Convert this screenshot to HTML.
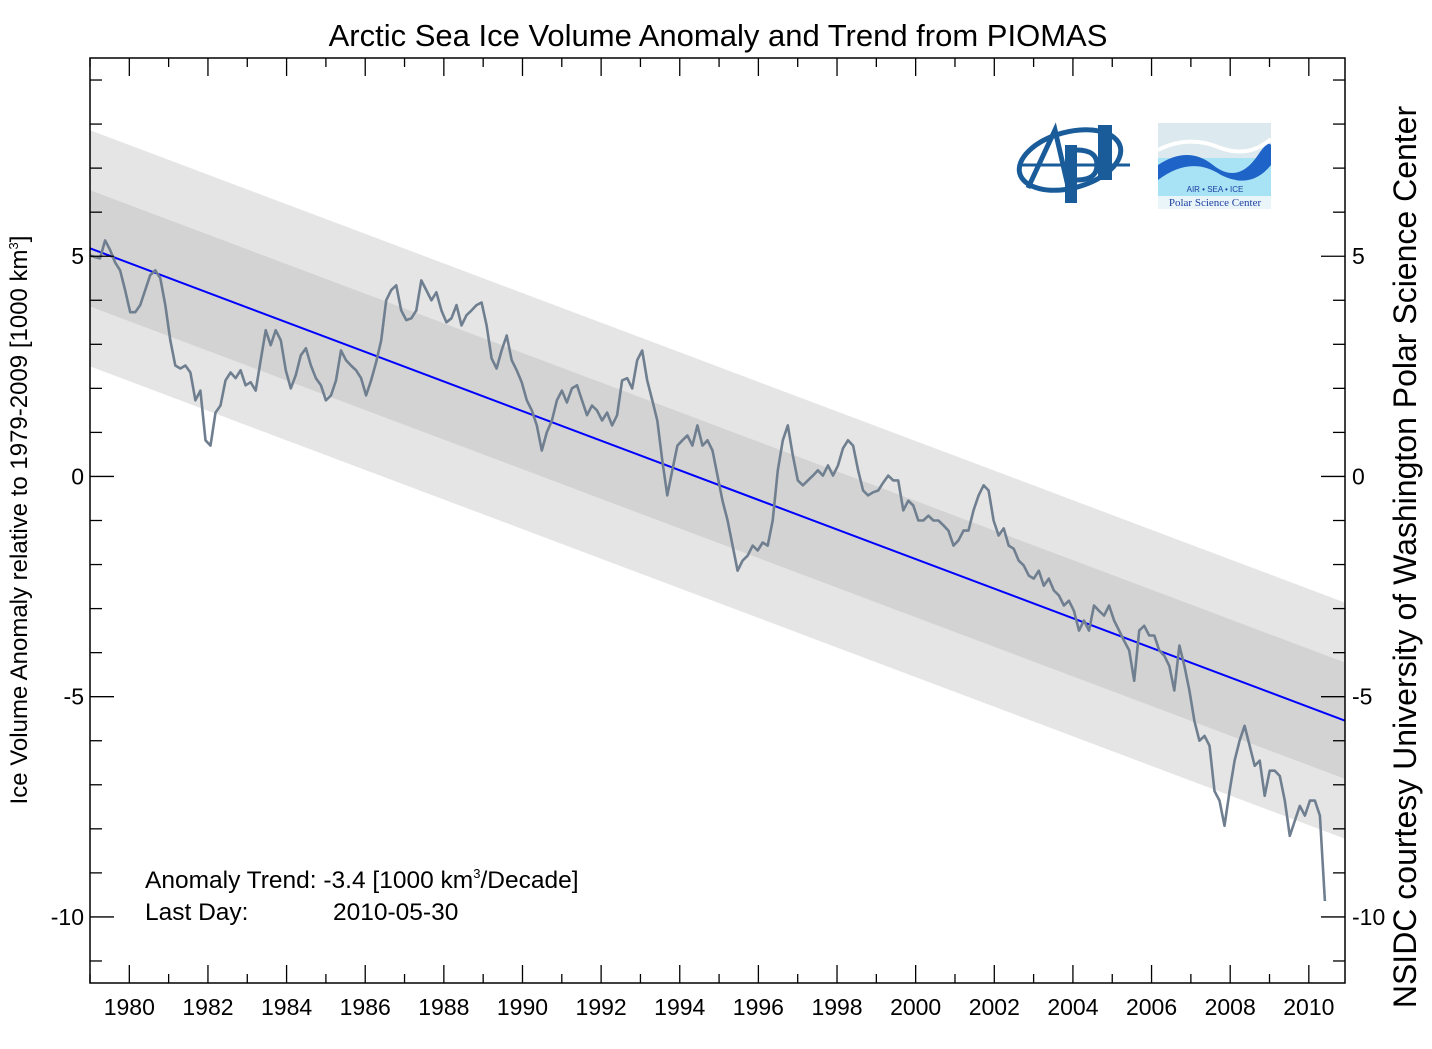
<!DOCTYPE html>
<html><head><meta charset="utf-8"><style>
body{margin:0;background:#fff;}
svg text{font-family:"Liberation Sans",sans-serif;fill:#000;}
</style></head><body>
<svg id="chart" width="1432" height="1044" xmlns="http://www.w3.org/2000/svg">
<g id="bands"></g>
<g id="series"></g>
<g id="axes"></g>
<text x="718" y="46" font-size="31" text-anchor="middle">Arctic Sea Ice Volume Anomaly and Trend from PIOMAS</text>
<text transform="translate(27,520) rotate(-90)" font-size="24" text-anchor="middle">Ice Volume Anomaly relative to 1979-2009 [1000 km<tspan font-size="13" dy="-9">3</tspan><tspan dy="9">]</tspan></text>
<text transform="translate(1416,557) rotate(-90)" font-size="32" text-anchor="middle">NSIDC courtesy University of Washington Polar Science Center</text>
<text x="145" y="888" font-size="24.5">Anomaly Trend: -3.4 [1000 km<tspan font-size="13" dy="-10">3</tspan><tspan dy="10">/Decade]</tspan></text>
<text x="145" y="920" font-size="24.5">Last Day:</text>
<text x="333" y="920" font-size="24.5">2010-05-30</text>
<g fill="none" stroke="#1a5c9a" stroke-width="5">
<ellipse cx="1070" cy="160" rx="52" ry="28" transform="rotate(-15 1070 160)"/>
<path d="M1028,188 L1055,130 L1070,195" />
<path d="M1020,165 L1130,165" stroke-width="3"/>
<rect x="1065" y="145" width="12" height="58" fill="#1a5c9a" stroke="none"/>
<path d="M1077,150 q20,0 20,15 q0,15 -20,15" />
<rect x="1098" y="125" width="14" height="55" fill="#1a5c9a" stroke="none"/>
</g>
<g>
<rect x="1158" y="123" width="113" height="86" fill="#dce9ee"/>
<rect x="1158" y="158" width="113" height="38" fill="#a8e2f5"/>
<path d="M1158,165 q30,-20 55,0 q25,20 45,-10 q10,-15 13,-10 l0,20 q-20,25 -50,10 q-30,-20 -63,5z" fill="#1e63c8"/>
<path d="M1158,150 q30,-15 60,-3 q30,12 53,-8" stroke="#fff" stroke-width="4" fill="none"/>
<text x="1215" y="192" font-size="8" text-anchor="middle" style="fill:#1b3fa0">AIR  •  SEA  •  ICE</text>
<rect x="1158" y="196" width="113" height="13" fill="#eaf5fa"/>
<text x="1215" y="206" font-size="11" text-anchor="middle" style="font-family:'Liberation Serif',serif;fill:#1b3fa0">Polar Science Center</text>
</g>
</svg>
<script>
const startYear = 1979.0;
const lastYear = 2010.41;
const values = [5.02,4.98,4.95,5.36,5.14,4.86,4.68,4.23,3.73,3.73,3.89,4.23,4.57,4.68,4.50,3.89,3.09,2.52,2.45,2.52,2.36,1.73,1.95,0.82,0.70,1.45,1.61,2.18,2.36,2.23,2.41,2.07,2.14,1.95,2.64,3.32,2.98,3.32,3.09,2.41,2.00,2.30,2.75,2.91,2.52,2.23,2.07,1.73,1.84,2.18,2.86,2.64,2.52,2.41,2.23,1.84,2.18,2.59,3.09,4.00,4.23,4.34,3.77,3.55,3.59,3.77,4.45,4.23,4.00,4.18,3.77,3.50,3.59,3.89,3.43,3.66,3.77,3.89,3.95,3.43,2.68,2.45,2.86,3.20,2.64,2.41,2.14,1.73,1.50,1.16,0.59,1.00,1.27,1.73,1.95,1.68,2.00,2.07,1.73,1.39,1.61,1.50,1.27,1.45,1.16,1.39,2.18,2.23,2.00,2.64,2.86,2.18,1.73,1.27,0.36,-0.43,0.14,0.70,0.82,0.93,0.70,1.16,0.70,0.82,0.59,0.02,-0.55,-1.00,-1.57,-2.14,-1.91,-1.80,-1.57,-1.68,-1.50,-1.57,-1.00,0.14,0.82,1.16,0.48,-0.09,-0.20,-0.09,0.02,0.14,0.02,0.25,0.02,0.25,0.64,0.82,0.70,0.14,-0.32,-0.43,-0.36,-0.32,-0.14,0.02,-0.09,-0.09,-0.77,-0.55,-0.66,-1.00,-1.00,-0.89,-1.00,-1.00,-1.11,-1.23,-1.57,-1.45,-1.23,-1.23,-0.77,-0.43,-0.20,-0.32,-1.00,-1.34,-1.18,-1.57,-1.64,-1.91,-2.02,-2.25,-2.32,-2.14,-2.48,-2.32,-2.59,-2.70,-2.93,-2.82,-3.05,-3.50,-3.27,-3.50,-2.93,-3.05,-3.16,-2.93,-3.27,-3.50,-3.73,-3.95,-4.64,-3.50,-3.39,-3.61,-3.61,-3.95,-4.07,-4.30,-4.86,-3.84,-4.30,-4.86,-5.55,-6.00,-5.89,-6.11,-7.14,-7.36,-7.93,-7.14,-6.45,-6.00,-5.66,-6.11,-6.57,-6.45,-7.25,-6.68,-6.68,-6.80,-7.36,-8.16,-7.82,-7.48,-7.70,-7.36,-7.36,-7.70,-9.64];
const trendStart = 5.18;
const trendSlope = -0.336;
const bandInner = 1.32;
const bandOuter = 2.68;
const yTickLabels = [5,0,-5,-10];
const xTickLabels = [1980,1982,1984,1986,1988,1990,1992,1994,1996,1998,2000,2002,2004,2006,2008,2010];

const X0=90,X1=1345,Y0=58,Y1=983, XMIN=1979.0, XMAX=2010.92, YMIN=-11.5, YMAX=9.5;
const sx=v=>X0+(v-XMIN)/(XMAX-XMIN)*(X1-X0);
const sy=v=>Y0+(YMAX-v)/(YMAX-YMIN)*(Y1-Y0);
const NS="http://www.w3.org/2000/svg";
function mk(tag,attrs,parent){const e=document.createElementNS(NS,tag);for(const k in attrs)e.setAttribute(k,attrs[k]);parent.appendChild(e);return e;}
const trend=t=>trendStart+trendSlope*(t-XMIN);

const bands=document.getElementById('bands');
function band(w,fill,name){
  const p=mk('polygon',{points:[[sx(XMIN),sy(trend(XMIN)+w)],[sx(XMAX),sy(trend(XMAX)+w)],[sx(XMAX),sy(trend(XMAX)-w)],[sx(XMIN),sy(trend(XMIN)-w)]].map(a=>a.join(',')).join(' '),fill:fill},bands);
  
  
}
band(bandOuter,'#e5e5e5','outer-band');
band(bandInner,'#d3d3d3','inner-band');

const ser=document.getElementById('series');
const tl=mk('line',{x1:sx(XMIN),y1:sy(trend(XMIN)),x2:sx(XMAX),y2:sy(trend(XMAX)),stroke:'#0000ff','stroke-width':2},ser);


const n=values.length;
const pts=values.map((v,i)=>sx(startYear+i*(lastYear-startYear)/(n-1)).toFixed(1)+','+sy(v).toFixed(1)).join(' ');
const pl=mk('polyline',{points:pts,fill:'none',stroke:'#6f7f90','stroke-width':2.6,'stroke-linejoin':'round'},ser);



const ax=document.getElementById('axes');
const fr=mk('rect',{x:X0,y:Y0,width:X1-X0,height:Y1-Y0,fill:'none',stroke:'#000','stroke-width':1.5},ax);


for(let v=-11;v<=9;v++){
  const y=sy(v), L=(v%5===0)?24:12;
  mk('line',{x1:X0,y1:y,x2:X0+L,y2:y,stroke:'#000','stroke-width':1.3},ax);
  mk('line',{x1:X1,y1:y,x2:X1-L,y2:y,stroke:'#000','stroke-width':1.3},ax);
}
yTickLabels.forEach(v=>{
  const t=mk('text',{x:X0-6,y:sy(v)+8,'font-size':23,'text-anchor':'end'},ax);t.textContent=v;
  
  
  const r=mk('text',{x:X1+7,y:sy(v)+8,'font-size':23},ax);r.textContent=v;
  
  
});
for(let yr=1979;yr<=2010;yr++){
  const x=sx(yr), L=(yr%2===0)?18:9;
  mk('line',{x1:x,y1:Y1,x2:x,y2:Y1-L,stroke:'#000','stroke-width':1.3},ax);
  mk('line',{x1:x,y1:Y0,x2:x,y2:Y0+L,stroke:'#000','stroke-width':1.3},ax);
}
xTickLabels.forEach(v=>{
  const t=mk('text',{x:sx(v),y:1015,'font-size':23,'text-anchor':'middle'},ax);t.textContent=v;
  
  
});
</script>
</body></html>
